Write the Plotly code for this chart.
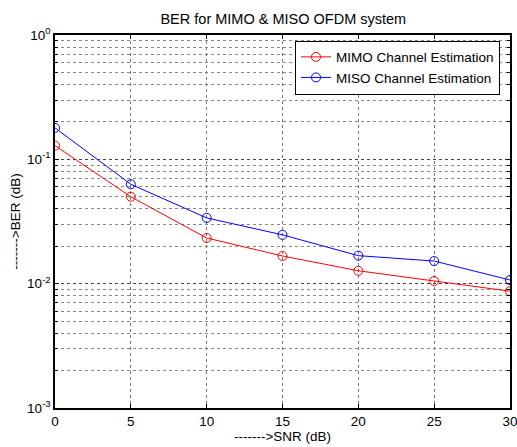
import plotly.graph_objects as go

snr = [0, 5, 10, 15, 20, 25, 30]
ber_mimo = [0.129, 0.050, 0.0233, 0.0167, 0.0127, 0.0105, 0.0087]
ber_miso = [0.179, 0.063, 0.0338, 0.0247, 0.0168, 0.0152, 0.0107]
x_ticks = [0, 5, 10, 15, 20, 25, 30]
y_ticks = [1, 0.1, 0.01, 0.001]
y_ticklabels = ["10<sup>0</sup>", "10<sup>-1</sup>", "10<sup>-2</sup>", "10<sup>-3</sup>"]
y_minor = [m * d for d in (0.001, 0.01, 0.1) for m in range(2, 10)]

font = "Liberation Sans, Arial, sans-serif"
fs = 13.5

fig = go.Figure()
fig.add_trace(go.Scatter(x=snr, y=ber_mimo, mode="lines+markers", name="MIMO Channel Estimation",
                         line=dict(color="red", width=1),
                         marker=dict(symbol="circle-open", size=9, color="red", line=dict(width=1))))
fig.add_trace(go.Scatter(x=snr, y=ber_miso, mode="lines+markers", name="MISO Channel Estimation",
                         line=dict(color="blue", width=1),
                         marker=dict(symbol="circle-open", size=9, color="blue", line=dict(width=1))))

fig.update_layout(
    width=517, height=447,
    margin=dict(l=55, r=7, t=35, b=39),
    paper_bgcolor="white", plot_bgcolor="white",
    font=dict(family=font, size=fs, color="black"),
    title=dict(text="BER for MIMO & MISO OFDM system", x=0.548, xanchor="center", y=0.957, yanchor="middle",
               font=dict(size=14.5, family=font, color="black")),
    showlegend=True,
    legend=dict(x=0.978, y=0.985, xanchor="right", yanchor="top", bgcolor="white",
                bordercolor="black", borderwidth=1, font=dict(size=fs, family=font),
                tracegroupgap=0),
)
fig.update_xaxes(range=[0, 30], tickvals=x_ticks, ticks="inside", ticklen=4, tickcolor="black",
                 showline=True, linecolor="black", linewidth=1.5, mirror="ticks",
                 showgrid=True, gridcolor="#777777", griddash="dot", gridwidth=1,
                 zeroline=False, tickfont=dict(size=fs), automargin=False,
                 ticklabeloverflow="allow",
                 title=dict(text="------->SNR (dB)", font=dict(size=fs), standoff=2))
fig.update_yaxes(type="log", range=[-3, 0], tickvals=y_ticks, ticktext=y_ticklabels,
                 ticks="inside", ticklen=4, tickcolor="black",
                 showline=True, linecolor="black", linewidth=1.5, mirror="ticks",
                 showgrid=True, gridcolor="#444444", griddash="dot", gridwidth=1,
                 minor=dict(tickvals=y_minor, ticks="inside", ticklen=3, tickcolor="black",
                            showgrid=True, gridcolor="#888888", griddash="dot", gridwidth=1),
                 zeroline=False, tickfont=dict(size=fs), automargin=False,
                 ticklabeloverflow="allow",
                 title=dict(text="------->BER (dB)", font=dict(size=fs), standoff=3))

fig.write_html("out.html", config={"displayModeBar": False},
               post_script="document.body.style.margin='0';document.body.style.overflow='hidden';")
